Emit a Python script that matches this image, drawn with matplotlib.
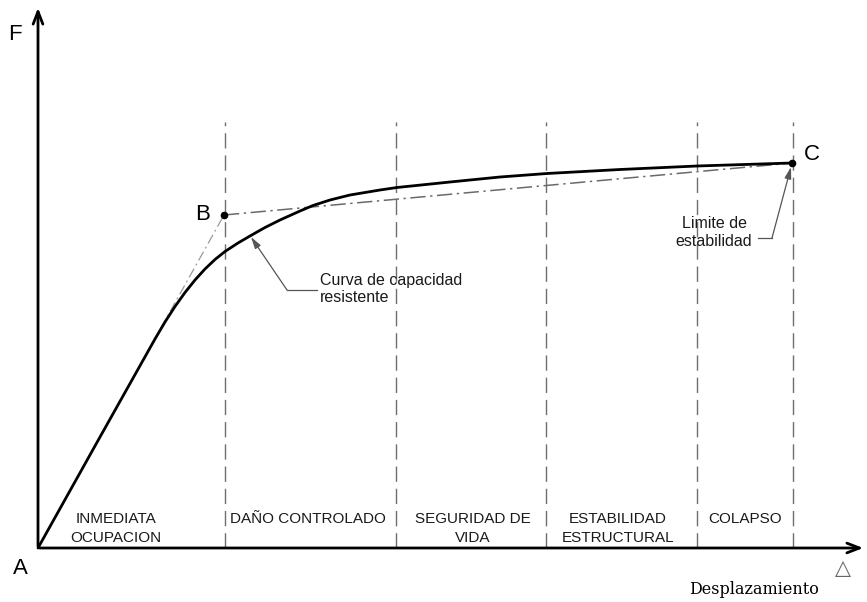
import matplotlib.pyplot as plt

# capacity curve (displacement, force)
curva_x = [0, 62, 117, 127, 137, 147, 157, 167, 177, 187, 200, 212, 227, 242, 262, 275,
           292, 312, 342, 359, 412, 462, 509, 582, 659, 754]
curva_y = [0, 111, 209, 226, 241.5, 255.5, 268, 279, 288.5, 296.5, 305, 312, 320.5, 328,
           337, 342.5, 348, 353, 358, 360.5, 366, 371, 374.5, 378.5, 382, 385]

# bilinear idealisation A-B-C
punto_x = [0, 186, 754]
punto_y = [0, 333, 385]
punto_lbl = ["A", "B", "C"]

# performance level limits and zone labels
limites = [187, 358, 508, 659, 755]
limite_top = 426
zonas = ["INMEDIATA\nOCUPACION", "DAÑO CONTROLADO", "SEGURIDAD DE\nVIDA",
         "ESTABILIDAD\nESTRUCTURAL", "COLAPSO"]
zona_x = [78, 270, 435, 580, 707]

fig = plt.figure(figsize=(8.67, 6.02), dpi=100)
ax = fig.add_axes([0, 0, 1, 1])
ax.set_xlim(-38, 829)
ax.set_ylim(-54, 548)
ax.axis("off")
sans = ["Liberation Sans", "DejaVu Sans"]

# axes with open arrows
ax.annotate("", xy=(0, 543), xytext=(0, -1),
            arrowprops=dict(arrowstyle="->,head_length=0.9,head_width=0.35", lw=2, color="black"))
ax.annotate("", xy=(828, 0), xytext=(-1, 0),
            arrowprops=dict(arrowstyle="->,head_length=0.9,head_width=0.35", lw=2, color="black"))

# dashed limits
for xl in limites:
    ax.plot([xl, xl], [0, limite_top], color="#6e6e6e", lw=1, dashes=(11, 5))

# idealised lines
ax.plot(punto_x[:2], punto_y[:2], color="#9a9a9a", lw=0.9, dashes=(8, 3, 1.5, 3))
ax.plot(punto_x[1:], punto_y[1:], color="#6a6a6a", lw=1.1, dashes=(10, 3, 1.5, 3))

# capacity curve
ax.plot(curva_x, curva_y, color="black", lw=2, solid_joinstyle="round", solid_capstyle="round")
ax.plot(punto_x[1:], punto_y[1:], "o", color="black", ms=4.5)

# point letters
ax.text(-10, -10, punto_lbl[0], fontsize=16, family=sans, ha="right", va="top")
ax.text(punto_x[1] - 14, punto_y[1] + 1, punto_lbl[1], fontsize=16, family=sans, ha="right", va="center")
ax.text(punto_x[2] + 12, punto_y[2] + 9, punto_lbl[2], fontsize=16, family=sans, ha="left", va="center")
ax.text(-16, 513, "F", fontsize=16, family=sans, ha="right", va="center")

# zone labels
for zx, zt in zip(zona_x, zonas):
    ax.text(zx, 36, zt, fontsize=11, family=sans, ha="center", va="top",
            linespacing=1.45, color="#1a1a1a")

# annotation: capacity curve
ax.plot([249, 279], [258, 258], color="#555555", lw=0.9)
ax.annotate("", xy=(213, 311), xytext=(249, 258),
            arrowprops=dict(arrowstyle="-|>,head_length=0.7,head_width=0.2", lw=0.9, color="#555555",
                            shrinkA=0, shrinkB=0))
ax.text(282, 259, "Curva de capacidad\nresistente", fontsize=11.5, family=sans,
        ha="left", va="center", linespacing=1.25, color="#1a1a1a")

# annotation: stability limit
ax.plot([720, 734], [310, 310], color="#555555", lw=0.9)
ax.annotate("", xy=(753, 381), xytext=(734, 310),
            arrowprops=dict(arrowstyle="-|>,head_length=0.7,head_width=0.2", lw=0.9, color="#555555",
                            shrinkA=0, shrinkB=0))
ax.text(676, 316, "Limite de\nestabilidad", fontsize=11.5, family=sans,
        ha="center", va="center", linespacing=1.25, color="#1a1a1a")

# x axis caption
ax.text(805, -20, "\u25b3", fontsize=15, family=["DejaVu Sans"], ha="center", va="center", color="#666666")
ax.text(716, -42, "Desplazamiento", fontsize=11.5, family=["DejaVu Serif"], ha="center", va="center")

fig.savefig("out.png", dpi=100)
